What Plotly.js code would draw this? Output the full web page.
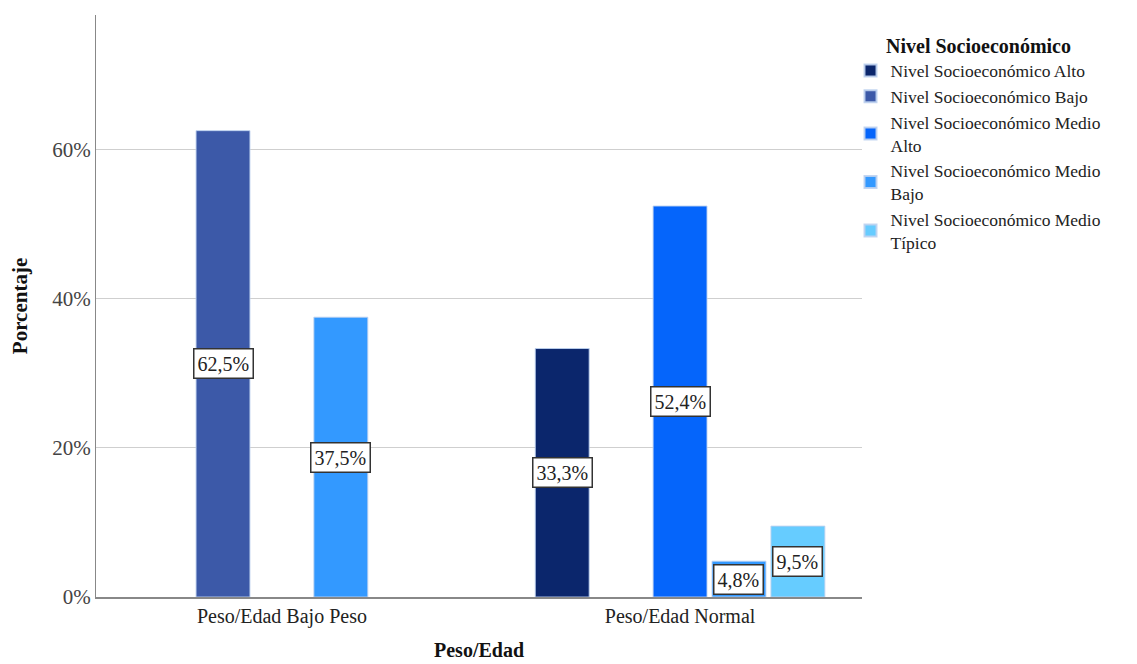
<!DOCTYPE html>
<html>
<head>
<meta charset="utf-8">
<script src="https://cdn.plot.ly/plotly-3.0.1.min.js"></script>
<style>html,body{margin:0;padding:0;background:#fff;}#chart{width:1137px;height:664px;}</style>
</head>
<body>
<div id="chart"></div>
<script>
const categories = ["Peso/Edad Bajo Peso", "Peso/Edad Normal"];
const seriesNames = [
  "Nivel Socioeconómico Alto",
  "Nivel Socioeconómico Bajo",
  "Nivel Socioeconómico Medio<br>Alto",
  "Nivel Socioeconómico Medio<br>Bajo",
  "Nivel Socioeconómico Medio<br>Típico"
];
const valsAlto = [null, 33.3];
const valsBajo = [62.5, null];
const valsMedioAlto = [null, 52.4];
const valsMedioBajo = [37.5, 4.8];
const valsMedioTipico = [null, 9.5];
const seriesValues = [valsAlto, valsBajo, valsMedioAlto, valsMedioBajo, valsMedioTipico];
const colors = ["#0b266c", "#3c59a8", "#0565fb", "#3399ff", "#66ccff"];
const yTicks = [0, 20, 40, 60];
const yTickText = ["0%", "20%", "40%", "60%"];
const xTitle = "Peso/Edad";
const yTitle = "Porcentaje";
const legendTitle = "Nivel Socioeconómico";

const font = "Liberation Serif";
const bargap = 0.26, bargroupgap = 0.085;
const nSeries = seriesValues.length;
const xIdx = categories.map((c, i) => i);

const traces = seriesValues.map((vals, s) => ({
  type: "bar",
  name: seriesNames[s],
  x: xIdx,
  y: vals,
  marker: {color: colors[s], line: {color: "rgba(190,210,240,0.9)", width: 1}},
  hoverinfo: "skip"
}));

const slot = (1 - bargap) / nSeries;
const annotations = [];
seriesValues.forEach((vals, s) => {
  vals.forEach((v, i) => {
    if (v === null) return;
    annotations.push({
      x: i - (1 - bargap) / 2 + slot * (s + 0.5),
      y: v / 2,
      xref: "x", yref: "y",
      text: v.toFixed(1).replace(".", ",") + "%",
      showarrow: false,
      bgcolor: "#ffffff",
      bordercolor: "#333333",
      borderwidth: 1.5,
      borderpad: 3,
      font: {family: font, size: 20, color: "#222"}
    });
  });
});
annotations.push({
  x: 0.5, y: -0.1125, xref: "paper", yref: "paper",
  xanchor: "center", yanchor: "bottom",
  text: "<b>" + xTitle + "</b>", showarrow: false, borderpad: 0,
  font: {family: font, size: 20, color: "#111"}
});

const layout = {
  width: 1137, height: 664,
  margin: {l: 96, r: 275, t: 15, b: 67},
  paper_bgcolor: "#fff", plot_bgcolor: "#fff",
  barmode: "group", bargap: bargap, bargroupgap: bargroupgap,
  showlegend: true,
  font: {family: font, size: 18, color: "#222"},
  xaxis: {
    range: [-0.467, 1.457],
    tickvals: xIdx, ticktext: categories,
    showgrid: false, zeroline: false,
    showline: true, linecolor: "#888", linewidth: 2,
    ticks: "", tickfont: {family: font, size: 20, color: "#222"}
  },
  yaxis: {
    range: [0, 78],
    tickvals: yTicks, ticktext: yTickText,
    showgrid: true, gridcolor: "#cfcfcf", gridwidth: 1,
    zeroline: false, showline: true, linecolor: "#888", linewidth: 1,
    ticks: "", tickfont: {family: font, size: 21, color: "#444"},
    title: {text: "<b>" + yTitle + "</b>", font: {family: font, size: 21, color: "#111"}, standoff: 18}
  },
  legend: {
    x: 0.985, xanchor: "left", y: 0.98, yanchor: "top",
    font: {family: font, size: 17.5, color: "#222"},
    title: {text: "<b>" + legendTitle + "</b>", side: "top center", font: {family: font, size: 20, color: "#111"}},
    tracegroupgap: 0, itemsizing: "constant",
    bgcolor: "rgba(0,0,0,0)"
  },
  annotations: annotations
};

Plotly.newPlot("chart", traces, layout, {displayModeBar: false, staticPlot: true});
</script>
</body>
</html>
